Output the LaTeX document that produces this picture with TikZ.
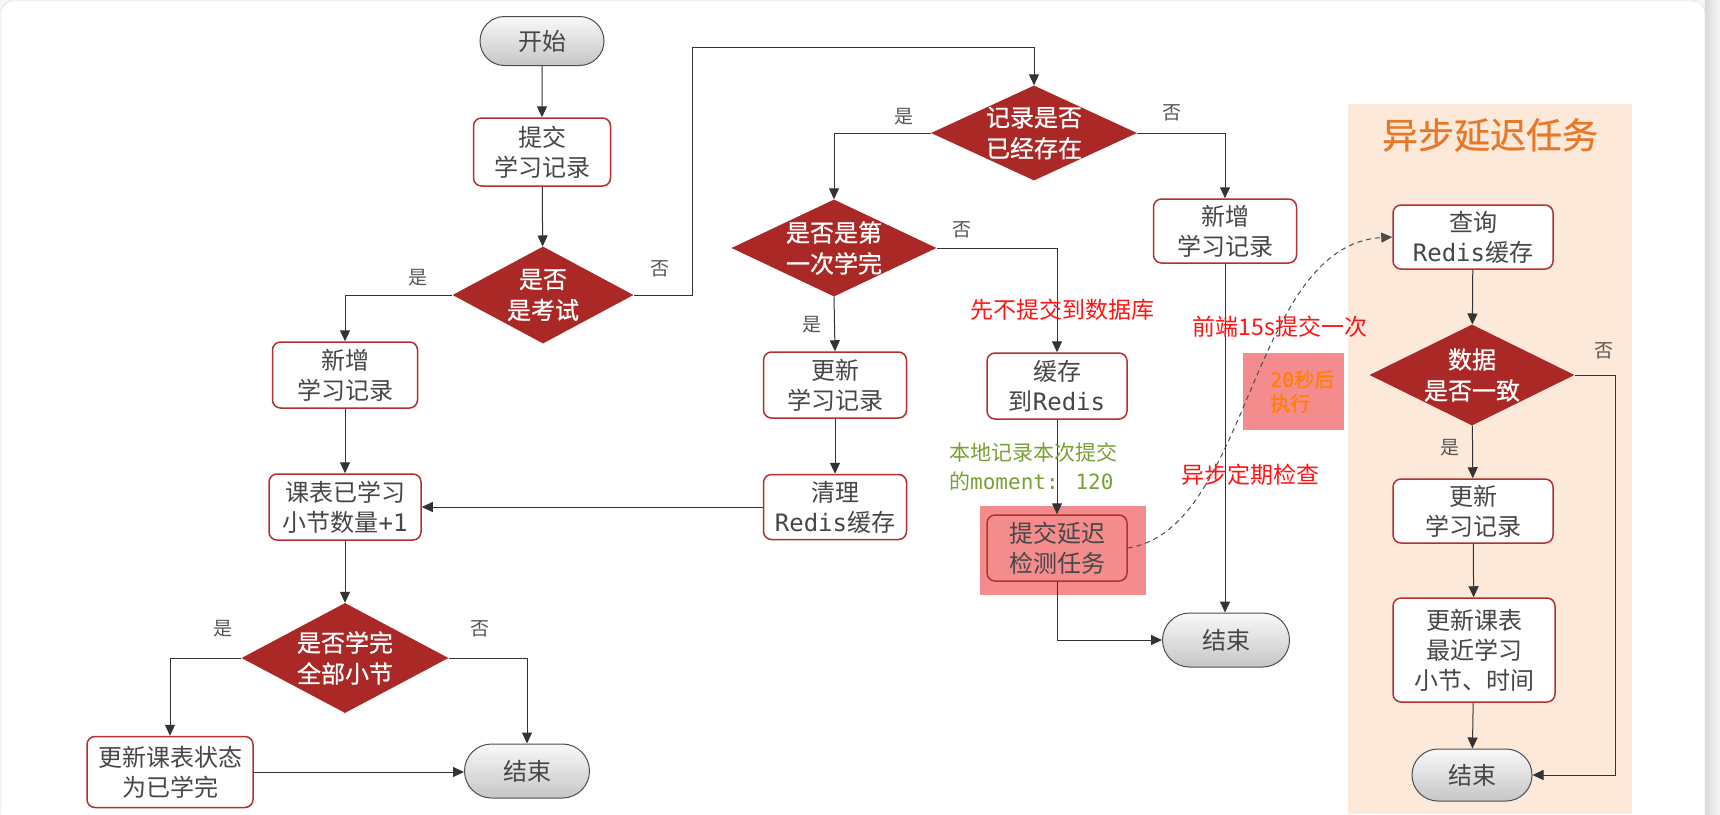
\documentclass[tikz,border=0pt]{standalone}
\usepackage{fontspec}
\setmainfont{Noto Sans CJK SC}
\newfontfamily\monof{DejaVu Sans Mono}
\newfontfamily\decfont[FakeBold=0.8]{Noto Sans CJK SC}
\newfontfamily\titlefont[FakeBold=0.6]{Noto Sans CJK SC}
\newfontfamily\monobf[FakeBold=0.6]{DejaVu Sans Mono}
\usetikzlibrary{shapes.geometric,shapes.misc,arrows.meta,calc}
\definecolor{boxred}{RGB}{178,48,48}
\definecolor{decred}{RGB}{170,40,38}
\definecolor{txtgray}{RGB}{70,70,70}
\definecolor{labgray}{RGB}{85,85,85}
\definecolor{peach}{RGB}{253,233,218}
\definecolor{pinkhl}{RGB}{244,140,142}
\definecolor{annred}{RGB}{255,20,20}
\definecolor{anngreen}{RGB}{120,160,52}
\definecolor{annorange}{RGB}{255,128,0}
\definecolor{titleorange}{RGB}{232,120,40}
\tikzset{
  boxnode/.style={draw=boxred, line width=1.5pt, rounded corners=8pt, fill=white,
    text=txtgray, align=center, inner sep=0pt, font=\fontsize{24}{30}\selectfont},
  decnode/.style={diamond, fill=decred, inner sep=0pt},
  dectext/.style={text=white, align=center, inner sep=0pt,
    font=\decfont\fontsize{24}{31}\selectfont},
  termnode/.style={rounded rectangle, draw=black!70, line width=1pt, top color=gray!5,
    bottom color=gray!45, text=txtgray, inner sep=0pt, font=\fontsize{24}{30}\selectfont},
  arr/.style={-{Triangle[length=11pt,width=10pt]}, line width=1pt, draw=black!80},
  lab/.style={text=labgray, font=\fontsize{19}{22}\selectfont, inner sep=0pt},
  ann/.style={text=annred, font=\fontsize{23}{28}\selectfont, inner sep=0pt},
}
\begin{document}
\begin{tikzpicture}[x=1pt,y=-1pt]
\useasboundingbox (0,0) rectangle (1720,814);
% background card
\fill[gray!8] (0,0) rectangle (1720,814);
\shade[left color=gray!30, right color=gray!5] (1705,0) rectangle (1720,814);
\draw[gray!30, fill=white, rounded corners=12pt] (1,1) rectangle (1705,840);
% async panel
\fill[peach] (1348,104) rectangle (1632,814);
\node[text=titleorange, font=\titlefont\fontsize{36}{40}\selectfont, inner sep=0pt] (title) at (1490,135) {异步延迟任务};
% highlight rects
\fill[pinkhl] (980,506) rectangle (1146,595);
\fill[pinkhl] (1243,353) rectangle (1344,430);

% nodes left
\node[termnode, minimum width=124pt, minimum height=49pt] (start) at (542,41) {开始};
\node[boxnode, minimum width=137pt, minimum height=68pt] (submit) at (542,152) {提交\\学习记录};
\node[decnode, minimum width=181pt, minimum height=97pt] (exam) at (543,295) {};
\node[dectext] (examT) at (exam) {是否\\是考试};
\node[boxnode, minimum width=145pt, minimum height=66pt] (addL) at (345,375) {新增\\学习记录};
\node[boxnode, minimum width=152pt, minimum height=66pt] (count) at (345,507) {课表已学习\\小节数量{\monof +1}};
\node[decnode, minimum width=207pt, minimum height=110pt] (alldone) at (345,658) {};
\node[dectext] (alldoneT) at (alldone) {是否学完\\全部小节};
\node[boxnode, minimum width=166pt, minimum height=71pt] (updstatus) at (170,772) {更新课表状态\\为已学完};
\node[termnode, minimum width=125pt, minimum height=54pt] (endL) at (527,771) {结束};
% middle
\node[decnode, minimum width=206pt, minimum height=95pt] (exists) at (1034,133) {};
\node[dectext] (existsT) at (exists) {记录是否\\已经存在};
\node[decnode, minimum width=205pt, minimum height=97pt] (first) at (834,248) {};
\node[dectext] (firstT) at (first) {是否是第\\一次学完};
\node[boxnode, minimum width=143pt, minimum height=66pt] (updrec) at (835,385) {更新\\学习记录};
\node[boxnode, minimum width=143pt, minimum height=65pt] (clean) at (835,507) {清理\\{\monof Redis}缓存};
\node[boxnode, minimum width=140pt, minimum height=66pt] (cache) at (1057,386) {缓存\\到{\monof Redis}};
\node[boxnode, fill=pinkhl, minimum width=140pt, minimum height=66pt] (delay) at (1057,548) {提交延迟\\检测任务};
\node[termnode, minimum width=127pt, minimum height=54pt] (endM) at (1226,640) {结束};
\node[boxnode, minimum width=143pt, minimum height=64pt] (addR) at (1225,231) {新增\\学习记录};
% right panel
\node[boxnode, minimum width=160pt, minimum height=64pt] (query) at (1473,237) {查询\\{\monof Redis}缓存};
\node[decnode, minimum width=205pt, minimum height=101pt] (same) at (1472,375) {};
\node[dectext] (sameT) at (same) {数据\\是否一致};
\node[boxnode, minimum width=160pt, minimum height=64pt] (upd2) at (1473,511) {更新\\学习记录};
\node[boxnode, minimum width=162pt, minimum height=104pt] (upd3) at (1474,650) {更新课表\\最近学习\\小节、时间};
\node[termnode, minimum width=120pt, minimum height=52pt] (endR) at (1472,775) {结束};

% connectors
\coordinate (c1) at (692,295);
\coordinate (c2) at (692,47);
\coordinate (c3) at (1615,375);
\draw[arr] (start) -- (submit);
\draw[arr] (submit) -- (exam);
\draw[arr] (exam.west) -| (addL.north);
\draw[arr] (exam.east) -- (c1) -- (c2) -| (exists.north);
\draw[arr] (exists.west) -| (first.north);
\draw[arr] (exists.east) -| (addR.north);
\draw[arr] (first.east) -| (cache.north);
\draw[arr] (first.south) -- (updrec.north);
\draw[arr] (updrec) -- (clean);
\draw[arr] (clean.west) -- (clean.west -| count.east);
\draw[arr] (cache) -- (delay);
\draw[arr] (delay.south) |- (endM.west);
\draw[arr] (addR.south) -- (addR.south |- endM.north);
\draw[arr] (addL) -- (count);
\draw[arr] (count) -- (alldone);
\draw[arr] (alldone.west) -| (updstatus.north);
\draw[arr] (alldone.east) -| (endL.north);
\draw[arr] (updstatus.east) -- (updstatus.east -| endL.west);
\draw[arr] (query) -- (same);
\draw[arr] (same) -- (upd2);
\draw[arr] (upd2) -- (upd3);
\draw[arr] (upd3) -- (endR);
\draw[arr] (same.east) -- (c3) |- (endR.east);
\draw[-{Triangle[length=11pt,width=10pt]}, line width=1pt, draw=black!70, dash pattern=on 5pt off 4pt]
  (delay.east) .. controls (1250,530) and (1250,245) .. (query.west);

% branch labels
\node[lab] (l1) at (418,278) {是};
\node[lab] (l2) at (660,269) {否};
\node[lab] (l3) at (904,117) {是};
\node[lab] (l4) at (1172,113) {否};
\node[lab] (l5) at (962,230) {否};
\node[lab] (l6) at (812,325) {是};
\node[lab] (l7) at (223,629) {是};
\node[lab] (l8) at (480,629) {否};
\node[lab] (l9) at (1604,351) {否};
\node[lab] (l10) at (1450,448) {是};

% annotations
\node[ann] (a1) at (1062,310) {先不提交到数据库};
\node[ann] (a2) at (1280,327) {前端15s提交一次};
\node[ann] (a3) at (1250,475) {异步定期检查};
\node[text=anngreen, anchor=north west, align=left, inner sep=0pt,
  font=\fontsize{21}{29}\selectfont] (a4) at (949,442) {本地记录本次提交\\的{\monof moment: 120}};
\node[text=annorange, anchor=north west, align=left, inner sep=0pt,
  font=\titlefont\fontsize{20}{24}\selectfont] (a5) at (1270,370) {{\monobf 20}秒后\\执行};
\end{tikzpicture}
\end{document}
